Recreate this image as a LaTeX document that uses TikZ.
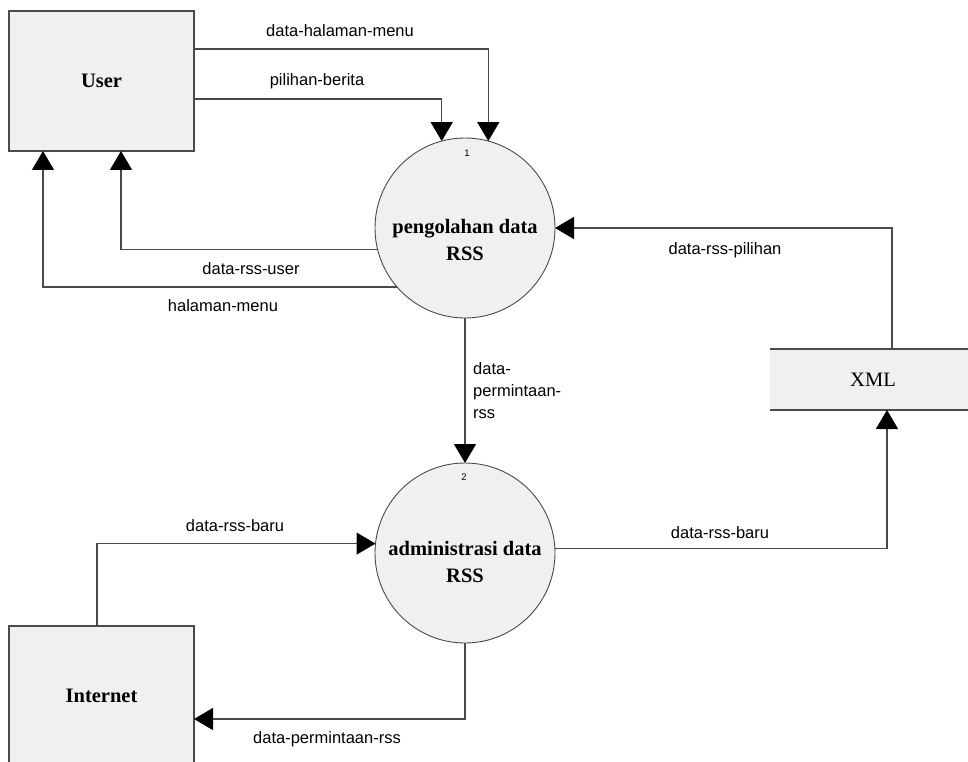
\documentclass[tikz,border=0pt]{standalone}
\usepackage{fontspec}
\setmainfont{Liberation Serif}
\newfontfamily\lblfont{Liberation Sans}
\usetikzlibrary{arrows.meta,calc}
\definecolor{boxfill}{HTML}{F0F0F0}
\definecolor{linec}{HTML}{4A4A4A}
\begin{document}
\begin{tikzpicture}[x=1pt,y=-1pt,
  entity/.style={draw=linec,line width=1.3pt,fill=boxfill,minimum width=185pt,minimum height=140pt,inner sep=0pt,outer sep=0pt,font=\bfseries\fontsize{20.5}{24}\selectfont},
  proc/.style={circle,draw=linec,line width=0.9pt,fill=boxfill,minimum size=180pt,inner sep=0pt,outer sep=0pt},
  flow/.style={draw=linec,line width=1.4pt,-{Triangle[length=19pt,width=22pt,color=black]}},
  lbl/.style={font=\lblfont\fontsize{16.5}{22}\selectfont,inner sep=0pt},
  ptitle/.style={font=\bfseries\fontsize{20.5}{27}\selectfont,align=center,inner sep=0pt},
  pnum/.style={font=\lblfont\fontsize{9.5}{10}\selectfont,inner sep=0pt}]
\useasboundingbox (0,0) rectangle (968,762);
\clip (0,0) rectangle (968,762);

% external entities
\node[entity] (user) at (101.5,81) {User};
\node[entity] (inet) at (101.5,696) {Internet};

% processes
\node[proc] (c1) at (465,228) {};
\node[ptitle] (t1) at (465,240) {pengolahan data\\RSS};
\node[pnum] (n1) at (467,153) {1};
\node[proc] (c2) at (465,553) {};
\node[ptitle] (t2) at (465,561.5) {administrasi data\\RSS};
\node[pnum] (n2) at (464,477) {2};

% data store
\node[fill=boxfill,minimum width=206pt,minimum height=61pt,inner sep=0pt,outer sep=0pt,font=\fontsize{20.5}{24}\selectfont] (xml) at (873,379.5) {XML};
\draw[linec,line width=1.3pt] (xml.north west) -- (xml.north east) (xml.south west) -- (xml.south east);

% flows
\draw[flow] ([yshift=32pt]user.east) -| (c1.75.2);
\draw[flow] ([yshift=-18pt]user.east) -| (c1.105.5);
\draw[flow] (c1.194.8) -| ([xshift=19.5pt]user.south);
\draw[flow] (c1.221.8) -| ([xshift=-58.5pt]user.south);
\draw[flow] ([xshift=19pt]xml.north) |- (c1.east);
\draw[flow] (c2.3.2) -| ([xshift=14pt]xml.south);
\draw[flow] ([xshift=-4.5pt]inet.north) |- (c2.174.9);
\draw[flow] (c2.south) |- ([yshift=-23pt]inet.east);
\draw[flow] (c1.south) -- (c2.north);

% labels
\node[lbl] (l1) at (340,31) {data-halaman-menu};
\node[lbl] (l2) at (317,81) {pilihan-berita};
\node[lbl] (l3) at (251,269) {data-rss-user};
\node[lbl] (l4) at (223,306) {halaman-menu};
\node[lbl] (l5) at (725,250) {data-rss-pilihan};
\node[lbl] (l6) at (720,533) {data-rss-baru};
\node[lbl] (l7) at (235,526) {data-rss-baru};
\node[lbl] (l8) at (327,739) {data-permintaan-rss};
\node[lbl,align=left,anchor=north west] (l9) at (473,362) {data-\\permintaan-\\rss};
\end{tikzpicture}
\end{document}
